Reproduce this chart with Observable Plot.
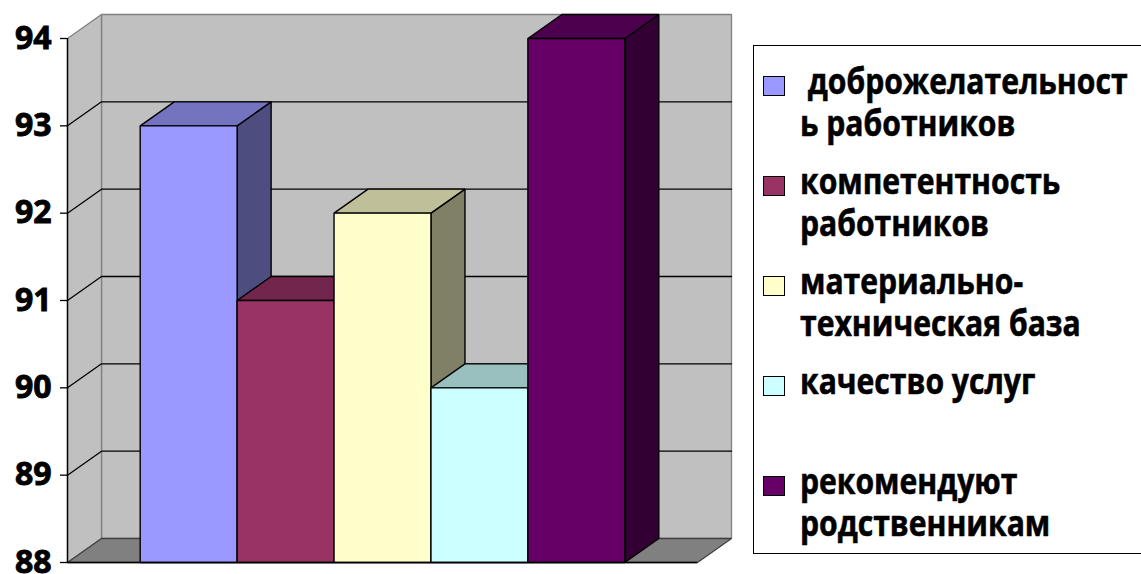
<!DOCTYPE html>
<html><head><meta charset="utf-8">
<script src="https://cdn.jsdelivr.net/npm/d3@7"></script>
<script src="https://cdn.jsdelivr.net/npm/@observablehq/plot@0.6"></script>
<style>
html,body{margin:0;padding:0;background:#fff;overflow:hidden;}
#wrap{position:relative;width:1141px;height:574px;overflow:hidden;font-family:"Open Sans",sans-serif;}
#chart{position:absolute;left:0;top:0;}
#chart svg text{font-weight:700 !important;font-size:32px;stroke:#000;stroke-width:0.9px;}
#legend{position:absolute;left:753px;top:45px;width:420px;height:509px;border:1.5px solid #000;box-sizing:border-box;background:#fff;}
.sw{position:absolute;width:22px;height:20px;border:1.4px solid #000;box-sizing:border-box;}
.ln{position:absolute;white-space:pre;font-weight:700;font-size:35px;line-height:42px;transform:scaleX(0.86);transform-origin:0 50%;color:#000;-webkit-text-stroke:0.6px #000;}
</style></head>
<body><div id="wrap"><div id="chart"></div><div id="legend"></div></div>
<script>
// ---- data ----
const categories = ["доброжелательность работников", "компетентность работников", "материально-техническая база", "качество услуг", "рекомендуют родственникам"];
const values = [93, 91, 92, 90, 94];
const frontColors = ["#9999FF", "#993366", "#FFFFCC", "#CCFFFF", "#660066"];
const topColors   = ["#7373BF", "#73264D", "#BFBF99", "#99BFBF", "#4D004D"];
const sideColors  = ["#4D4D80", "#4D1A33", "#808066", "#668080", "#330033"];
const yTicks = [88, 89, 90, 91, 92, 93, 94];
const legendLines = [[" доброжелательност", "ь работников"], ["компетентность", "работников"], ["материально-", "техническая база"], ["качество услуг"], ["рекомендуют", "родственникам"]];

// ---- 3D projection parameters (in data units) ----
const yMin = d3.min(yTicks), yMax = d3.max(yTicks);
const gap = 0.75;                 // half of Excel's 150% gap width
const xMax = values.length + 2 * gap;
const DX = 0.3508, DY = 0.2748;   // depth offset

const poly = (arr, id, fill, stroke) => arr.map(([x, y]) => ({id, x, y, fill, stroke}));

const walls = [
  ...poly([[DX, yMin + DY], [xMax + DX, yMin + DY], [xMax + DX, yMax + DY], [DX, yMax + DY]], "back", "#C0C0C0", "#808080"),
  ...poly([[0, yMin], [DX, yMin + DY], [DX, yMax + DY], [0, yMax]], "side", "#C0C0C0", "#808080"),
  ...poly([[0, yMin], [xMax, yMin], [xMax + DX, yMin + DY], [DX, yMin + DY]], "floor", "#808080", "#404040")
];

const grid = yTicks.filter(v => v > yMin && v < yMax).flatMap(v => [
  {id: v, x: 0, y: v}, {id: v, x: DX, y: v + DY}, {id: v, x: xMax + DX, y: v + DY}
]);

const bars = values.flatMap((v, i) => {
  const x0 = gap + i, x1 = x0 + 1;
  return [
    ...poly([[x1, yMin], [x1 + DX, yMin + DY], [x1 + DX, v + DY], [x1, v]], "s" + i, sideColors[i], "#000"),
    ...poly([[x0, v], [x1, v], [x1 + DX, v + DY], [x0 + DX, v + DY]], "t" + i, topColors[i], "#000"),
    ...poly([[x0, yMin], [x1, yMin], [x1, v], [x0, v]], "f" + i, frontColors[i], "#000")
  ];
});

const chart = Plot.plot({
  width: 1141, height: 574,
  marginLeft: 67, marginRight: 444, marginTop: 38, marginBottom: 12,
  x: {domain: [0, xMax], axis: null},
  y: {domain: [yMin, yMax], label: null},
  color: {type: "identity"},
  style: {fontFamily: "Open Sans", fontWeight: "bold", fontSize: "32px", background: "transparent", overflow: "visible"},
  marks: [
    Plot.line(walls, {x: "x", y: "y", z: "id", fill: "fill", stroke: "stroke", strokeWidth: 1.3, curve: "linear-closed", strokeLinejoin: "miter"}),
    Plot.line(grid, {x: "x", y: "y", z: "id", stroke: "#000", strokeWidth: 1.3}),
    Plot.line(bars, {x: "x", y: "y", z: "id", fill: "fill", stroke: "stroke", strokeWidth: 1.4, curve: "linear-closed", strokeLinejoin: "miter"}),
    Plot.ruleX([0], {y1: yMin, y2: yMax, stroke: "#000", strokeWidth: 1.4}),
    Plot.ruleY([yMin], {x1: 0, x2: xMax, stroke: "#000", strokeWidth: 1.4}),
    Plot.axisY(yTicks, {tickSize: 7, tickPadding: 9, fontSize: 32, fontWeight: "bold", strokeWidth: 1.3, label: null, tickFormat: d => String(d)})
  ]
});
document.getElementById("chart").appendChild(chart);

// ---- legend ----
const lg = document.getElementById("legend");
const L0 = 753 + 1.5, T0 = 45 + 1.5;
legendLines.forEach((lines, i) => {
  const c = 86 + 100 * i;
  const sw = document.createElement("div");
  sw.className = "sw";
  sw.style.left = (763 - L0) + "px";
  sw.style.top = (c - 10 - T0) + "px";
  sw.style.background = frontColors[i];
  lg.appendChild(sw);
  const d = document.createElement("div");
  d.className = "ln";
  d.textContent = lines.join("\n");
  d.style.left = (800 - L0) + "px";
  d.style.top = (c - 25.2 - T0) + "px";
  lg.appendChild(d);
});
</script>
</body></html>
